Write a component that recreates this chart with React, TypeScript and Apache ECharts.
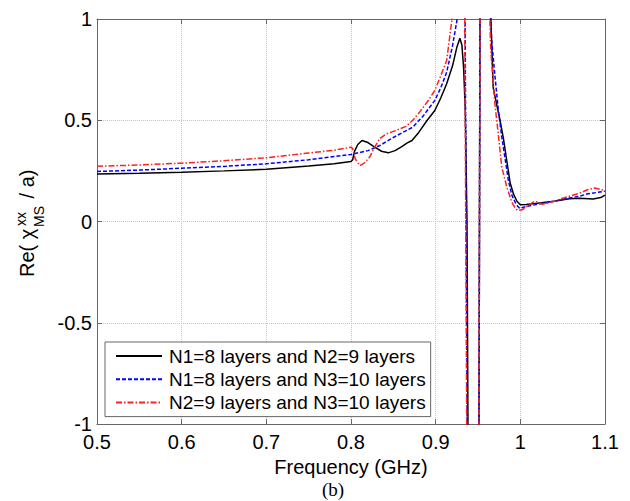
import React, { useEffect, useRef } from "react";
import * as echarts from "echarts";

// ---- data ----
const seriesNames = [
  "N1=8 layers and N2=9 layers",
  "N1=8 layers and N3=10 layers",
  "N2=9 layers and N3=10 layers",
];

const freqBlack = [
  0.5, 0.55, 0.6, 0.65, 0.7, 0.75, 0.78, 0.8, 0.802, 0.804, 0.808, 0.813, 0.82, 0.828, 0.836, 0.844,
  0.852, 0.86, 0.866, 0.872, 0.88, 0.89, 0.899, 0.906, 0.913, 0.92, 0.925, 0.9286, 0.931, 0.933,
  0.935, 0.937, 0.9385, 0.944, 0.951, 0.9525, 0.958, 0.9635, 0.968, 0.972, 0.976, 0.98, 0.984,
  0.988, 0.992, 0.996, 1.0, 1.007, 1.02, 1.04, 1.058, 1.07, 1.086, 1.095, 1.1,
];
const valBlack = [
  0.235, 0.238, 0.243, 0.25, 0.258, 0.274, 0.285, 0.296, 0.305, 0.345, 0.38, 0.4, 0.39, 0.367, 0.347, 0.339,
  0.35, 0.37, 0.387, 0.4, 0.44, 0.5, 0.548, 0.61, 0.68, 0.77, 0.86, 0.905, 0.87, 0.76,
  0.55, 0.0, -1.3, -5, -1.3, 1.3, 3, 1.2, 0.66, 0.58, 0.5, 0.41, 0.3,
  0.19, 0.135, 0.1, 0.083, 0.084, 0.09, 0.1, 0.112, 0.115, 0.111, 0.118, 0.13,
];

const freqBlue = [
  0.5, 0.55, 0.6, 0.65, 0.7, 0.75, 0.8, 0.82, 0.834, 0.85, 0.873, 0.885, 0.899, 0.906, 0.913, 0.92,
  0.925, 0.928, 0.932, 0.9345, 0.936, 0.9375, 0.944, 0.951, 0.9525, 0.958, 0.963, 0.966, 0.97,
  0.974, 0.978, 0.982, 0.986, 0.99, 0.995, 0.999, 1.005, 1.02, 1.04, 1.05, 1.07, 1.08, 1.09, 1.1,
];
const valBlue = [
  0.247, 0.254, 0.263, 0.272, 0.285, 0.305, 0.331, 0.35, 0.375, 0.415, 0.466, 0.52, 0.598, 0.66, 0.737, 0.87,
  0.99, 1.2, 1.5, 1.2, 0.0, -1.3, -5, -1.3, 1.3, 3, 1.3, 0.9, 0.72,
  0.55, 0.42, 0.31, 0.2, 0.13, 0.085, 0.066, 0.072, 0.085, 0.1, 0.11, 0.125, 0.137, 0.143, 0.15,
];

const freqRed = [
  0.5, 0.55, 0.6, 0.65, 0.7, 0.75, 0.78, 0.8, 0.802, 0.805, 0.8105, 0.816, 0.822, 0.828, 0.834, 0.842,
  0.85, 0.858, 0.865, 0.873, 0.881, 0.89, 0.899, 0.906, 0.913, 0.919, 0.925, 0.93, 0.934, 0.9355,
  0.937, 0.944, 0.951, 0.9525, 0.958, 0.962, 0.965, 0.97, 0.974, 0.978, 0.984, 0.99, 0.994, 0.997,
  1.002, 1.008, 1.013, 1.017, 1.021, 1.026, 1.04, 1.05, 1.07, 1.08, 1.088, 1.095, 1.1,
];
const valRed = [
  0.273, 0.279, 0.288, 0.3, 0.315, 0.338, 0.352, 0.367, 0.36, 0.31, 0.276, 0.29, 0.318, 0.367, 0.41, 0.433,
  0.445, 0.458, 0.47, 0.5, 0.54, 0.59, 0.647, 0.72, 0.795, 0.99, 1.3, 1.6, 1.3, 0.0,
  -1.3, -5, -1.3, 1.3, 3, 1.3, 0.85, 0.58, 0.43, 0.27, 0.17, 0.095, 0.065, 0.054,
  0.058, 0.075, 0.09, 0.1, 0.095, 0.085, 0.1, 0.115, 0.14, 0.158, 0.165, 0.158, 0.153,
];

const xTicks = { min: 0.5, max: 1.1, interval: 0.1 };
const yTicks = { min: -1, max: 1, interval: 0.5 };

const FONT = '"Liberation Sans", Arial, Helvetica, sans-serif';

const pairs = (xs: number[], ys: number[]) => xs.map((x, i) => [x, ys[i]]);
const fmt = (v: number) => String(+v.toFixed(2));

export default function App() {
  const ref = useRef<HTMLDivElement>(null);
  useEffect(() => {
    if (!ref.current) return;
    const chart = echarts.init(ref.current, null, { renderer: "svg" });
    const axisColor = "#666";
    const baseX = {
      type: "value" as const,
      min: xTicks.min,
      max: xTicks.max,
      interval: xTicks.interval,
      axisLine: { show: true, onZero: false, lineStyle: { color: axisColor, width: 1 } },
      axisTick: { show: true, inside: true, length: 5, lineStyle: { color: axisColor } },
    };
    const baseY = {
      type: "value" as const,
      min: yTicks.min,
      max: yTicks.max,
      interval: yTicks.interval,
      axisLine: { show: true, onZero: false, lineStyle: { color: axisColor, width: 1 } },
      axisTick: { show: true, inside: true, length: 5, lineStyle: { color: axisColor } },
    };
    chart.setOption({
      animation: false,
      backgroundColor: "#fff",
      grid: { left: 97, right: 25, top: 19, bottom: 77, containLabel: false },
      xAxis: [
        {
          ...baseX,
          position: "bottom",
          axisLabel: { color: "#000", fontSize: 20, fontFamily: FONT, margin: 8, formatter: fmt },
          splitLine: { show: true, lineStyle: { type: "dotted", color: "#c4c4c4", width: 1 } },
          name: "Frequency (GHz)",
          nameLocation: "middle",
          nameGap: 32,
          nameTextStyle: { color: "#000", fontSize: 20, fontFamily: FONT },
        },
        {
          ...baseX,
          position: "top",
          axisLabel: { show: false },
          splitLine: { show: false },
        },
      ],
      yAxis: [
        {
          ...baseY,
          position: "left",
          axisLabel: { color: "#000", fontSize: 20, fontFamily: FONT, margin: 5, formatter: fmt },
          splitLine: { show: true, lineStyle: { type: "dotted", color: "#c4c4c4", width: 1 } },
        },
        {
          ...baseY,
          position: "right",
          axisLabel: { show: false },
          splitLine: { show: false },
        },
      ],
      legend: {
        orient: "vertical",
        left: 105,
        top: 342,
        padding: [4, 5, 4, 10],
        itemWidth: 46,
        itemHeight: 14,
        itemGap: 3.3,
        backgroundColor: "#fff",
        borderColor: "#666",
        borderWidth: 1,
        borderRadius: 0,
        itemStyle: { opacity: 0 },
        textStyle: { color: "#000", fontSize: 19, fontFamily: FONT, lineHeight: 20, padding: [0, 0, 0, 2] },
        data: seriesNames,
      },
      series: [
        {
          name: seriesNames[0],
          type: "line",
          data: pairs(freqBlack, valBlack),
          symbol: "none",
          clip: true,
          lineStyle: { color: "#000", width: 1.5, type: "solid" },
          itemStyle: { color: "#000" },
          z: 2,
        },
        {
          name: seriesNames[1],
          type: "line",
          data: pairs(freqBlue, valBlue),
          symbol: "none",
          clip: true,
          lineStyle: { color: "#0000ff", width: 1.5, type: [4, 2] },
          itemStyle: { color: "#0000ff" },
          z: 3,
        },
        {
          name: seriesNames[2],
          type: "line",
          data: pairs(freqRed, valRed),
          symbol: "none",
          clip: true,
          lineStyle: { color: "#ff2020", width: 1.5, type: [6, 2, 1.5, 2] },
          itemStyle: { color: "#ff2020" },
          z: 4,
        },
      ],
      graphic: [
        {
          type: "group",
          x: 0,
          y: 277,
          rotation: Math.PI / 2,
          children: [
            { type: "text", x: 0, y: 27, style: { text: "Re( χ", font: `20px ${FONT}`, fill: "#000", verticalAlign: "middle", align: "left" } },
            { type: "text", x: 51, y: 21, style: { text: "xx", font: `14px ${FONT}`, fill: "#000", verticalAlign: "middle", align: "left" } },
            { type: "text", x: 50, y: 39, style: { text: "MS", font: `14px ${FONT}`, fill: "#000", verticalAlign: "middle", align: "left" } },
            { type: "text", x: 73, y: 27, style: { text: " / a)", font: `20px ${FONT}`, fill: "#000", verticalAlign: "middle", align: "left" } },
          ],
        },
        {
          type: "text",
          left: 322,
          top: 480,
          style: { text: "(b)", font: '19px "Liberation Serif", "Times New Roman", serif', fill: "#000" },
        },
      ],
    });
    return () => chart.dispose();
  }, []);
  return <div ref={ref} style={{ position: "fixed", left: 0, top: 0, width: 630, height: 501 }} />;
}
